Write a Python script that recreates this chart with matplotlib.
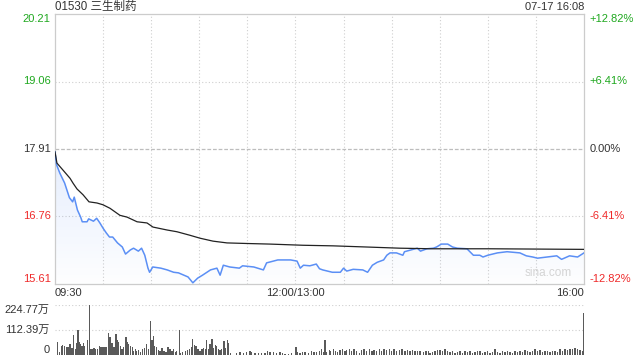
import numpy as np
import matplotlib
matplotlib.use("Agg")
import matplotlib.pyplot as plt
from matplotlib.patches import Polygon

plt.rcParams['font.family'] = ['Liberation Sans', 'Noto Sans CJK SC', 'DejaVu Sans']

# ---- data ----
title = "01530 三生制药"
stamp = "07-17 16:08"
prev_close = 17.91
price_ticks = [20.21, 19.06, 17.91, 16.76, 15.61]
pct_ticks = ["+12.82%", "+6.41%", "0.00%", "-6.41%", "-12.82%"]
vol_ticks = [224.77, 112.39, 0]
vol_tick_labels = ["224.77万", "112.39万", "0"]
time_labels = ["09:30", "12:00/13:00", "16:00"]
time_pos = [0, 150, 330]  # minutes of trading

# price (minutes since 09:30, lunch removed)
price_t = [0, 1, 3, 6, 9, 11, 12, 14, 16, 17, 20, 21, 24, 26, 28, 30, 32, 34, 36, 39,
           42, 44, 47, 49, 52, 54, 56, 58, 59, 61, 66, 70, 74, 77, 83, 86, 89, 92, 97, 101,
           103, 105, 109, 115, 117, 124, 130, 132, 139, 147, 151, 153, 155, 159, 163, 165,
           167, 170, 173, 178, 180, 182, 186, 192, 195, 198, 201, 205, 207, 209, 213, 217,
           218, 222, 226, 228, 232, 236, 238, 241, 245, 248, 251, 257, 261, 265, 267, 270,
           276, 282, 290, 294, 298, 301, 307, 313, 316, 321, 326, 330]
price_v = [17.86, 17.64, 17.50, 17.33, 17.08, 17.01, 17.09, 16.87, 16.75, 16.67, 16.67, 16.72,
           16.68, 16.73, 16.65, 16.56, 16.48, 16.41, 16.41, 16.31, 16.24, 16.12, 16.19, 16.22,
           16.17, 16.22, 16.10, 15.88, 15.81, 15.90, 15.88, 15.85, 15.81, 15.80, 15.73, 15.63,
           15.71, 15.76, 15.85, 15.88, 15.76, 15.93, 15.90, 15.88, 15.92, 15.90, 15.85, 15.97,
           16.02, 16.02, 16.00, 15.88, 15.93, 15.92, 15.95, 15.87, 15.85, 15.83, 15.81, 15.81,
           15.88, 15.83, 15.86, 15.85, 15.81, 15.93, 15.98, 16.02, 16.10, 16.14, 16.14, 16.10,
           16.16, 16.19, 16.22, 16.17, 16.21, 16.22, 16.24, 16.29, 16.29, 16.24, 16.22, 16.21,
           16.10, 16.10, 16.07, 16.10, 16.14, 16.16, 16.14, 16.09, 16.07, 16.05, 16.07, 16.09,
           16.03, 16.09, 16.07, 16.14]

# average price
avg_t = [0, 1.2, 5, 9.4, 11.2, 13.7, 17.5, 21.2, 26.2, 29.9, 34.3, 40.5, 44.9, 51.2, 57.4,
         61.1, 69.9, 76.1, 84.2, 90.5, 98.6, 107.3, 119.8, 134.1, 154.7, 173.4, 194.6,
         215.2, 235.8, 271.4, 330]
avg_v = [17.86, 17.67, 17.55, 17.41, 17.33, 17.23, 17.13, 17.01, 16.99, 16.96, 16.90, 16.78,
         16.75, 16.67, 16.65, 16.58, 16.53, 16.50, 16.44, 16.39, 16.34, 16.31, 16.30, 16.29,
         16.27, 16.26, 16.24, 16.22, 16.21, 16.21, 16.20]

# volume in 万
vol_t = [1.5, 2.7, 3.9, 4.8, 6.0, 7.3, 8.1, 9.4, 10.6, 11.4, 12.7, 13.5, 14.3, 15.2, 16.0,
         16.8, 17.7, 18.5, 20.2, 21.4, 22.3, 23.1, 24.3, 25.1, 26.4, 27.6, 28.5, 29.3, 30.6,
         31.8, 33.5, 34.3, 35.6, 36.8, 38.1, 38.9, 39.7, 41.0, 41.8, 42.6, 44.3, 45.1, 46.0,
         47.2, 48.1, 48.9, 50.1, 51.0, 52.2, 53.5, 54.7, 56.0, 57.2, 58.4, 59.7, 60.5, 61.3,
         62.2, 63.4, 64.7, 65.5, 66.8, 68.0, 69.2, 70.5, 71.7, 73.0, 73.8, 75.0, 75.9, 77.6,
         78.4, 79.7, 81.3, 82.6, 83.9, 85.0, 85.9, 87.1, 88.0, 89.2, 90.5, 91.7, 92.5, 93.7,
         94.6, 95.9, 96.7, 98.0, 98.8, 100.1, 100.9, 102.1, 102.9, 104.0, 105.4, 106.2, 107.5,
         108.3, 109.6, 113.3, 115.4, 117.5, 119.6, 121.6, 122.7, 124.8, 126.8, 128.9, 131.0,
         132.5, 134.1, 136.2, 138.3, 140.4, 142.0, 143.5, 145.5, 147.6, 150.3, 151.2, 152.8,
         154.5, 156.0, 158.0, 160.1, 161.6, 163.2, 164.9, 166.3, 167.4, 168.4, 169.5, 171.1,
         172.0, 173.6, 174.9, 176.1, 177.8, 179.5, 180.9, 182.0, 183.6, 185.1, 186.5, 188.2,
         189.8, 191.3, 192.8, 194.4, 196.1, 197.7, 199.0, 200.7, 202.3, 203.8, 205.2, 206.9,
         208.5, 210.0, 211.5, 213.2, 214.8, 216.5, 218.3, 219.8, 221.5, 223.1, 224.6, 226.0,
         227.7, 229.7, 231.4, 232.9, 233.9, 235.4, 237.0, 238.5, 240.2, 241.6, 243.3, 244.7,
         246.4, 247.8, 249.5, 250.9, 252.6, 254.1, 255.8, 257.2, 258.9, 260.3, 262.0, 263.4,
         265.1, 266.6, 268.2, 269.7, 271.4, 272.8, 274.5, 275.9, 277.6, 279.0, 280.7, 282.1,
         283.8, 285.3, 286.9, 288.4, 290.1, 291.5, 293.2, 294.6, 296.3, 297.7, 299.4, 300.9,
         302.5, 304.0, 305.7, 307.1, 308.8, 310.2, 311.9, 313.4, 315.0, 316.5, 318.1, 319.6,
         321.3, 322.7, 324.4, 325.8, 327.5, 328.9, 330.0]
vol_v = [60, 15, 40, 45, 40, 37, 34, 48, 30, 90, 25, 55, 112, 60, 50, 40, 52, 40, 67, 224.77,
         25, 25, 33, 25, 25, 40, 37, 34, 37, 34, 97, 80, 52, 37, 94, 67, 60, 40, 25, 34, 80,
         60, 50, 40, 34, 20, 25, 20, 22, 15, 25, 30, 50, 25, 153, 67, 85, 40, 34, 22, 20, 30,
         20, 15, 34, 25, 20, 25, 15, 18, 112, 10, 15, 20, 22, 25, 34, 70, 45, 40, 25, 20, 25,
         30, 25, 67, 25, 50, 70, 30, 45, 40, 25, 22, 25, 64, 30, 67, 55, 10, 10, 13, 10, 13,
         19, 15, 7, 10, 7, 10, 19, 13, 15, 10, 13, 7, 4, 4, 7, 37, 15, 10, 13, 13, 10, 19, 15,
         13, 19, 25, 15, 67, 15, 22, 16, 25, 19, 13, 22, 25, 16, 22, 25, 19, 28, 16, 10, 22,
         28, 19, 25, 16, 22, 19, 25, 19, 28, 22, 25, 16, 25, 19, 22, 25, 19, 22, 16, 22, 19,
         16, 19, 13, 16, 19, 10, 15, 19, 22, 22, 16, 25, 19, 13, 16, 10, 13, 19, 10, 16, 13,
         19, 10, 13, 16, 19, 10, 13, 16, 10, 13, 25, 13, 10, 16, 13, 19, 13, 10, 16, 13, 19,
         13, 22, 16, 13, 19, 28, 16, 22, 13, 19, 16, 13, 19, 16, 13, 28, 19, 25, 22, 28, 25,
         30, 28, 22, 16, 187]

green = '#1fa81f'
red = '#ef2a2a'
dark = '#333333'
grid_c = '#cfcfcf'

fig = plt.figure(figsize=(6.4, 3.6), dpi=100)
ax = fig.add_axes([55 / 640, 1 - 284 / 360, 529 / 640, 270 / 360])
axv = fig.add_axes([55 / 640, 1 - 355 / 360, 529 / 640, 50 / 360])

# ---- price pane ----
ax.set_xlim(0, 330)
ax.set_ylim(price_ticks[-1], price_ticks[0])
for t in range(30, 330, 30):
    ax.axvline(t, color=grid_c, lw=0.8, ls=(0, (1, 2)), zorder=0)
for p in [price_ticks[1], price_ticks[3]]:
    ax.axhline(p, color=grid_c, lw=0.8, ls=(0, (1, 2)), zorder=0)
ax.axhline(prev_close, color='#bdbdbd', lw=0.9, ls=(0, (3, 1.5)), zorder=0)

# gradient fill under price line
verts = [(price_t[0], price_ticks[-1])] + list(zip(price_t, price_v)) + [(price_t[-1], price_ticks[-1])]
poly = Polygon(verts, closed=True, facecolor='none', edgecolor='none')
ax.add_patch(poly)
grad = np.zeros((100, 2, 4))
grad[:, :, 0] = 0.36
grad[:, :, 1] = 0.56
grad[:, :, 2] = 0.96
grad[:, :, 3] = np.linspace(0.16, 0.01, 100)[:, None]
im = ax.imshow(grad, extent=[0, 330, price_ticks[-1], max(price_v)], aspect='auto',
               origin='upper', zorder=1)
im.set_clip_path(poly)

ax.plot(price_t, price_v, color='#5b8ff5', lw=1.1, zorder=3)
ax.plot(avg_t, avg_v, color='#222222', lw=0.9, zorder=4)

for s in ax.spines.values():
    s.set_color('#cccccc')
    s.set_linewidth(0.9)
ax.set_xticks([])
ax.set_yticks([])

lab_cols = [green, green, dark, red, red]
vas = ['top', 'center', 'center', 'center', 'bottom']
for p, pl, c, va in zip(price_ticks, pct_ticks, lab_cols, vas):
    ax.text(-0.008, p, f"{p:.2f}", transform=ax.get_yaxis_transform(), ha='right', va=va,
            color=c, fontsize=8)
    ax.text(1.011, p, pl, transform=ax.get_yaxis_transform(), ha='left', va=va,
            color=c, fontsize=8)

has = ['left', 'center', 'right']
for t, lab, ha in zip(time_pos, time_labels, has):
    ax.text(t, -0.033, lab, transform=ax.get_xaxis_transform(), ha=ha, va='center',
            color=dark, fontsize=8)

ax.text(0.0, 1.025, title, transform=ax.transAxes, ha='left', va='center', color=dark,
        fontsize=8.3)
ax.text(1.0, 1.025, stamp, transform=ax.transAxes, ha='right', va='center', color=dark,
        fontsize=8)
ax.text(0.978, 0.02, "sina.com", transform=ax.transAxes, ha='right', va='bottom',
        color='#d4d4d4', fontsize=8.5)

# ---- volume pane ----
axv.set_xlim(0, 330)
axv.set_ylim(0, vol_ticks[0])
axv.bar(vol_t, vol_v, width=0.75, color='#5a5a5a', linewidth=0, zorder=2)
for v in vol_ticks[:2]:
    axv.axhline(v, color=grid_c, lw=0.8, ls=(0, (1, 2)), zorder=0)
for s in axv.spines.values():
    s.set_visible(False)
axv.set_xticks([])
axv.set_yticks([])
vvas = ['top', 'center', 'bottom']
for v, vl, va in zip(vol_ticks, vol_tick_labels, vvas):
    axv.text(-0.01, v, vl, transform=axv.get_yaxis_transform(), ha='right', va=va,
             color=dark, fontsize=8)

fig.savefig("out.png", dpi=100)
